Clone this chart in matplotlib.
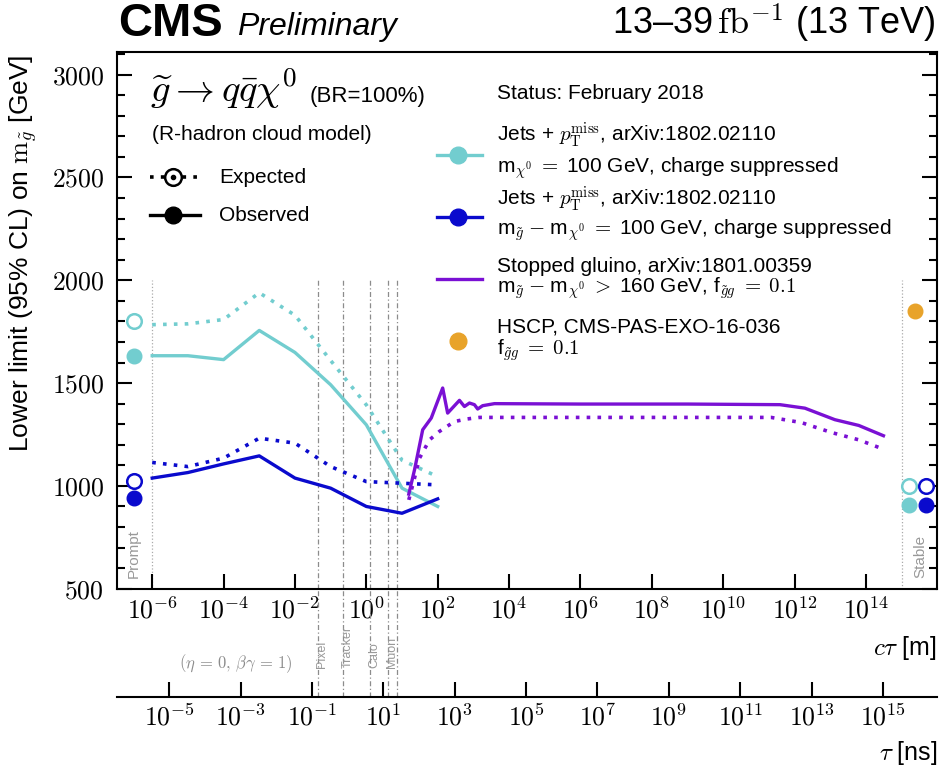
import numpy as np
import matplotlib
matplotlib.use("Agg")
import matplotlib.pyplot as plt
from matplotlib.ticker import FixedLocator, FixedFormatter, FuncFormatter, MultipleLocator, NullLocator

plt.rcParams['font.family'] = ['Liberation Sans', 'DejaVu Sans']
plt.rcParams['mathtext.fontset'] = 'cm'

# colours
c_cyan = '#72cdcf'
c_blue = '#0a0acd'
c_purple = '#7a10d4'
c_orange = '#e8a32a'
c_gray = '#8c8c8c'

# Jets + pTmiss, m_chi0 = 100 GeV (light blue) and m_gluino - m_chi0 = 100 GeV (dark blue)
ctau_jets = [1e-6, 1e-5, 1e-4, 1e-3, 1e-2, 1e-1, 1.0, 10.0, 100.0]
obs_jets_mchi = [1633, 1633, 1614, 1756, 1649, 1492, 1297, 989, 900]
exp_jets_mchi = [1784, 1788, 1809, 1939, 1830, 1610, 1394, 1125, 1045]
obs_jets_dm = [1038, 1065, 1107, 1146, 1038, 989, 900, 867, 937]
exp_jets_dm = [1114, 1094, 1135, 1232, 1208, 1094, 1021, 1013, 1005]

# prompt and stable points
ctau_prompt = 3e-7
prompt_obs = [1633, 940]       # mchi, dm
prompt_exp = [1800, 1026]
ctau_stable = [1.6e15, 4.9e15]  # mchi, dm
stable_obs = [905, 905]
stable_exp = [1000, 1000]

# stopped gluino
ctau_stop_obs = [15.5, 22.4, 38, 66, 138, 190, 407, 562, 776, 1070, 1320, 1820, 3890,
                 1e6, 1e9, 3.9e11, 1.95e12, 1.35e13, 6.3e13, 3.1e14]
obs_stop = [960, 1078, 1273, 1330, 1476, 1354, 1416, 1386, 1403, 1395, 1374, 1390, 1400,
            1398, 1398, 1395, 1378, 1322, 1294, 1244]
ctau_stop_exp = [15.5, 22.4, 31, 59, 112, 295, 631, 1480, 1e6, 2.2e11, 1.55e12, 1.07e13, 6.3e13, 2.3e14]
exp_stop = [932, 1038, 1135, 1224, 1265, 1313, 1325, 1333, 1333, 1333, 1308, 1260, 1224, 1187]

# HSCP
ctau_hscp = 2.3e15
lim_hscp = 1850

# detector boundaries, ctau [m]
det_ctau = [0.044, 0.226, 1.23, 4.0, 7.3]
det_names = ['Pixel', 'Tracker', 'Calo', 'Muon']

c_light = 0.299792458  # m/ns
tau_exps = list(range(-5, 16, 2))
ctau_exps = list(range(-6, 15, 2))

fig = plt.figure(figsize=(9.42, 7.71), dpi=100)
ax = fig.add_axes([0.1237, 0.2364, 0.8713, 0.6962])
ax2 = fig.add_axes([0.1237, 0.096, 0.8713, 0.1404])

ax.set_xscale('log')
ax.set_xlim(1e-7, 1e16)
ax.set_ylim(500, 3110)

dot = (0, (1, 2))
lw = 2.4
ax.plot(ctau_jets, obs_jets_mchi, color=c_cyan, lw=lw, zorder=3)
ax.plot(ctau_jets, exp_jets_mchi, color=c_cyan, lw=2.6, ls=dot, zorder=3)
ax.plot(ctau_jets, obs_jets_dm, color=c_blue, lw=lw, zorder=3)
ax.plot(ctau_jets, exp_jets_dm, color=c_blue, lw=2.6, ls=dot, zorder=3)
ax.plot(ctau_stop_obs, obs_stop, color=c_purple, lw=lw, zorder=4)
ax.plot(ctau_stop_exp, exp_stop, color=c_purple, lw=2.6, ls=dot, zorder=4)

ms = 10.5
for col, o, e in zip([c_cyan, c_blue], prompt_obs, prompt_exp):
    ax.plot([ctau_prompt], [e], 'o', mfc='white', mec=col, mew=1.8, ms=ms, zorder=5)
    ax.plot([ctau_prompt], [o], 'o', color=col, ms=ms, zorder=5)
for col, x, o, e in zip([c_cyan, c_blue], ctau_stable, stable_obs, stable_exp):
    ax.plot([x], [e], 'o', mfc='white', mec=col, mew=1.8, ms=ms, zorder=5)
    ax.plot([x], [o], 'o', color=col, ms=ms, zorder=5)
ax.plot([ctau_hscp], [lim_hscp], 'o', color=c_orange, ms=ms, zorder=5)

# detector regions
dd = (0, (4, 2, 1, 2))
ax.vlines(det_ctau, 500, 2000, colors=c_gray, linestyles=dd, lw=0.9, zorder=1)
ax.vlines([1e-6, 1e15], 500, 2000, colors='#aaaaaa', linestyles=':', lw=0.9, zorder=1)
ax.text(0.0213, 0.02, 'Prompt', rotation=90, ha='center', va='bottom', fontsize=11,
        color='#999999', transform=ax.transAxes)
ax.text(0.979, 0.02, 'Stable', rotation=90, ha='center', va='bottom', fontsize=11,
        color='#999999', transform=ax.transAxes)

# ticks
ax.xaxis.set_major_locator(FixedLocator([10.0 ** k for k in ctau_exps]))
ax.xaxis.set_minor_locator(NullLocator())
ax.xaxis.set_major_formatter(FuncFormatter(lambda v, p: rf"$10^{{{int(round(np.log10(v)))}}}$"))
ax.tick_params(axis='x', which='major', direction='in', length=11, width=1.5,
               labelsize=18.5, pad=6, top=False)
ax.yaxis.set_major_locator(MultipleLocator(500))
ax.yaxis.set_minor_locator(MultipleLocator(100))
ax.yaxis.set_major_formatter(FuncFormatter(lambda v, p: rf"${int(v)}$"))
ax.tick_params(axis='y', which='both', direction='in', left=True, right=True, width=1.5)
ax.tick_params(axis='y', which='major', length=11, labelsize=18.5, pad=9)
ax.tick_params(axis='y', which='minor', length=6)
for s in ax.spines.values():
    s.set_linewidth(1.5)

ax.set_ylabel(r"Lower limit (95% CL) on $\mathrm{m}_{\tilde{g}}$ [GeV]", fontsize=19, loc='top')
ax.yaxis.set_label_coords(-0.094, 0.995)

# second axis: tau [ns]
ax2.set_xscale('log')
ax2.set_xlim(ax.get_xlim())
ax2.set_ylim(0, 1)
for s in ['top', 'left', 'right']:
    ax2.spines[s].set_visible(False)
ax2.spines['bottom'].set_linewidth(1.5)
ax2.patch.set_visible(False)
ax2.set_yticks([])
ax2.xaxis.set_major_locator(FixedLocator([10.0 ** k * c_light for k in tau_exps]))
ax2.xaxis.set_major_formatter(FixedFormatter([rf"$10^{{{k}}}$" for k in tau_exps]))
ax2.xaxis.set_minor_locator(NullLocator())
ax2.tick_params(axis='x', which='major', direction='in', length=11, width=1.5, labelsize=18.5, pad=5)
ax2.vlines(det_ctau, 0, 1, colors=c_gray, linestyles=dd, lw=0.9)
for x, name in zip(det_ctau, det_names):
    ax2.annotate(name, xy=(x, 0.268), xytext=(3.2, 0), textcoords='offset points',
                 rotation=90, ha='center', va='bottom', fontsize=9, color='#999999')
ax2.text(0.145, 0.305, r"$(\eta\,=\,0,\,\beta\gamma\,=\,1)$", transform=ax2.transAxes,
         ha='center', va='center', fontsize=12, color=c_gray)

fig.text(0.9947, 1 - 648 / 771, r"$c\tau$ [m]", ha='right', va='center', fontsize=18)
fig.text(0.9947, 1 - 753 / 771, r"$\tau$ [ns]", ha='right', va='center', fontsize=18)

# header
fig.text(0.1253, 1 - 36 / 771, "CMS", fontsize=34, fontweight='bold', va='baseline')
fig.text(237 / 942, 1 - 35 / 771, "Preliminary", fontsize=23, style='italic', va='baseline')
fig.text(935 / 942, 1 - 35 / 771, r"13–39$\,\mathrm{fb}^{-1}$ (13 TeV)", fontsize=26,
         ha='right', va='baseline')

# left legend
T = ax.transAxes
ax.text(0.0408, 0.9069, r"$\widetilde{g}\rightarrow q\bar{q}\chi^{0}$", fontsize=28, transform=T, va='baseline')
ax.text(0.2358, 0.9069, "(BR=100%)", fontsize=16, transform=T, va='baseline')
ax.text(0.0433, 0.8359, "(R-hadron cloud model)", fontsize=15, transform=T, va='baseline')
ax.plot([0.0408, 0.1018], [0.767, 0.767], color='k', lw=2.6, ls=dot, transform=T)
ax.plot([0.0688], [0.767], 'o', mfc='white', mec='k', mew=1.8, ms=12, transform=T)
ax.plot([0.0688], [0.767], 'o', color='k', ms=3, transform=T)
ax.text(0.1249, 0.767, "Expected", fontsize=15, transform=T, va='center')
ax.plot([0.0408, 0.1018], [0.696, 0.696], color='k', lw=lw, transform=T)
ax.plot([0.0688], [0.696], 'o', color='k', ms=12, transform=T)
ax.text(0.1249, 0.696, "Observed", fontsize=15, transform=T, va='center')

# right legend
tx = 0.4636
ax.text(tx, 0.9124, "Status: February 2018", fontsize=15, transform=T, va='baseline')
entries = [
    (c_cyan, True, True, 0.808, r"Jets + $p_{\mathrm{T}}^{\mathrm{miss}}$, arXiv:1802.02110", 0.8323,
     r"m$_{\chi^0}\;{=}\;$100 GeV, charge suppressed", 0.7764),
    (c_blue, True, True, 0.6925, r"Jets + $p_{\mathrm{T}}^{\mathrm{miss}}$, arXiv:1802.02110", 0.7149,
     r"m$_{\tilde{g}}\;{-}\;$m$_{\chi^0}\;{=}\;$100 GeV, charge suppressed", 0.6608),
    (c_purple, True, False, 0.577, "Stopped gluino, arXiv:1801.00359", 0.5905,
     r"m$_{\tilde{g}}\;{-}\;$m$_{\chi^0}\;{>}\;$160 GeV, f$_{\tilde{g}g}\;{=}\;0.1$", 0.5514),
    (c_orange, False, True, 0.4615, "HSCP, CMS-PAS-EXO-16-036", 0.4769,
     r"f$_{\tilde{g}g}\;{=}\;0.1$", 0.4359),
]
for col, line, mark, yh, l1, y1, l2, y2 in entries:
    if line:
        ax.plot([0.3904, 0.4453], [yh, yh], color=col, lw=lw, transform=T)
    if mark:
        ax.plot([0.416], [yh], 'o', color=col, ms=12, transform=T)
    ax.text(tx, y1, l1, fontsize=15, transform=T, va='baseline')
    ax.text(tx, y2, l2, fontsize=15, transform=T, va='baseline')

fig.savefig("out.png", dpi=100)
